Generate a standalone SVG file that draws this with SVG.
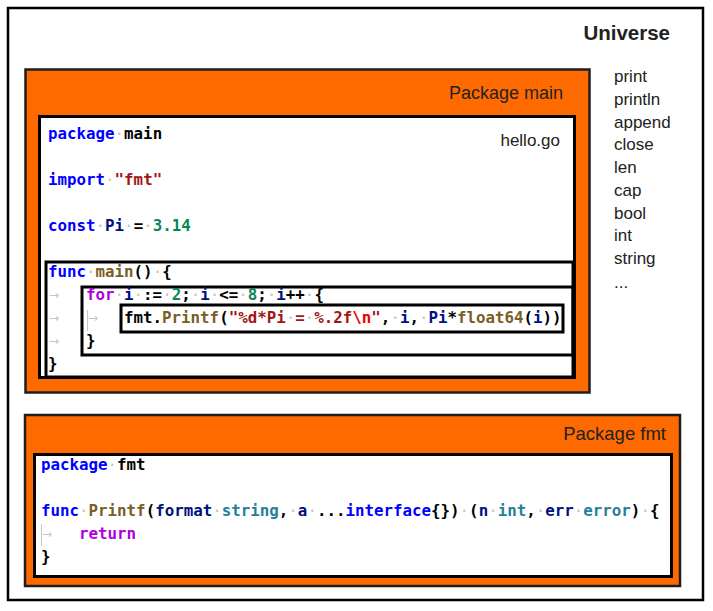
<svg xmlns="http://www.w3.org/2000/svg" width="713" height="611" viewBox="0 0 713 611">
<style>
.frame{fill:#fff;stroke:#000;stroke-width:2.5}
.pkg{fill:#ff6a00;stroke:#1e1e1e;stroke-width:2.5}
.file{fill:#fff;stroke:#000;stroke-width:3}
.scope{fill:none;stroke:#000;stroke-width:3}
.label{font-family:"Liberation Sans",Arial,sans-serif;fill:#222}
.code{font-family:"DejaVu Sans Mono","Liberation Mono",monospace;font-size:15.8px;font-weight:bold;fill:#000}
.kw{fill:#0000ff}
.ctl{fill:#af00db}
.str{fill:#a31515}
.esc{fill:#ee0000}
.num{fill:#098658}
.fn{fill:#795e26}
.ty{fill:#267f99}
.var{fill:#001080}
.ws{fill:#c4c4c4;font-weight:normal}
.tab{font-family:"DejaVu Sans",sans-serif;font-size:12px;fill:#c4c4c4}
.guide{stroke:#c8c8c8;stroke-width:1}
</style>

<g id="universe">
<rect class="frame" x="8" y="8" width="695" height="592"/>
<text class="label" x="670" y="40" text-anchor="end" font-size="20.5" font-weight="bold" fill="#000">Universe</text>
<g class="label" font-size="17" fill="#000">
<text x="614" y="82">print</text>
<text x="614" y="105">println</text>
<text x="614" y="128">append</text>
<text x="614" y="150">close</text>
<text x="614" y="173">len</text>
<text x="614" y="196">cap</text>
<text x="614" y="219">bool</text>
<text x="614" y="241">int</text>
<text x="614" y="264">string</text>
<text x="614" y="288">...</text>
</g>
</g>

<g id="pkg-main">
<rect class="pkg" x="25.5" y="69.5" width="564" height="323"/>
<text class="label" x="563" y="99" text-anchor="end" font-size="18">Package main</text>
</g>

<g id="hello-go">
<rect class="file" x="39.5" y="116.5" width="535" height="261"/>
<text class="label" x="560" y="146" text-anchor="end" font-size="17" fill="#000">hello.go</text>
<text class="code" x="48" y="139"><tspan class="kw">package</tspan><tspan class="ws">·</tspan>main</text>
<text class="code" x="48" y="185"><tspan class="kw">import</tspan><tspan class="ws">·</tspan><tspan class="str">"fmt"</tspan></text>
<text class="code" x="48" y="231"><tspan class="kw">const</tspan><tspan class="ws">·</tspan><tspan class="var">Pi</tspan><tspan class="ws">·</tspan>=<tspan class="ws">·</tspan><tspan class="num">3.14</tspan></text>
<text class="code" x="48" y="369">}</text>
<text class="tab" x="49" y="299">→</text>
<text class="tab" x="49" y="322">→</text>
<text class="tab" x="49" y="345">→</text>
</g>

<g id="func-main">
<rect class="scope" x="46" y="262" width="527" height="115"/>
<text class="code" x="48" y="277"><tspan class="kw">func</tspan><tspan class="ws">·</tspan><tspan class="fn">main</tspan>()<tspan class="ws">·</tspan>{</text>
</g>

<g id="for-loop">
<rect class="scope" x="82" y="287" width="491" height="68"/>
<text class="code" x="86" y="300"><tspan class="ctl">for</tspan><tspan class="ws">·</tspan><tspan class="var">i</tspan><tspan class="ws">·</tspan>:=<tspan class="ws">·</tspan><tspan class="num">2</tspan>;<tspan class="ws">·</tspan><tspan class="var">i</tspan><tspan class="ws">·</tspan>&lt;=<tspan class="ws">·</tspan><tspan class="num">8</tspan>;<tspan class="ws">·</tspan><tspan class="var">i</tspan>++<tspan class="ws">·</tspan>{</text>
<text class="code" x="86" y="346">}</text>
<line class="guide" x1="87.5" y1="310" x2="87.5" y2="331"/>
<text class="tab" x="88" y="322">→</text>
</g>

<g id="printf-call">
<rect class="scope" x="121" y="305" width="442" height="27"/>
<text class="code" x="124" y="323">fmt.<tspan class="fn">Printf</tspan>(<tspan class="str">"%d*Pi</tspan><tspan class="ws">·</tspan><tspan class="str">=</tspan><tspan class="ws">·</tspan><tspan class="str">%.2f</tspan><tspan class="esc">\n</tspan><tspan class="str">"</tspan>,<tspan class="ws">·</tspan><tspan class="var">i</tspan>,<tspan class="ws">·</tspan><tspan class="var">Pi</tspan>*<tspan class="fn">float64</tspan>(<tspan class="var">i</tspan>))</text>
</g>

<g id="pkg-fmt">
<rect class="pkg" x="25" y="415" width="655" height="171"/>
<text class="label" x="666" y="440" text-anchor="end" font-size="18.5">Package fmt</text>
</g>

<g id="fmt-file">
<rect class="file" x="34.5" y="454.5" width="637" height="122"/>
<text class="code" x="41" y="470"><tspan class="kw">package</tspan><tspan class="ws">·</tspan>fmt</text>
<text class="code" x="41" y="516"><tspan class="kw">func</tspan><tspan class="ws">·</tspan><tspan class="fn">Printf</tspan>(<tspan class="var">format</tspan><tspan class="ws">·</tspan><tspan class="ty">string</tspan>,<tspan class="ws">·</tspan><tspan class="var">a</tspan><tspan class="ws">·</tspan>...<tspan class="kw">interface</tspan>{})<tspan class="ws">·</tspan>(<tspan class="var">n</tspan><tspan class="ws">·</tspan><tspan class="ty">int</tspan>,<tspan class="ws">·</tspan><tspan class="var">err</tspan><tspan class="ws">·</tspan><tspan class="ty">error</tspan>)<tspan class="ws">·</tspan>{</text>
<line class="guide" x1="41.5" y1="524" x2="41.5" y2="546"/>
<text class="tab" x="42" y="538">→</text>
<text class="code" x="79" y="539"><tspan class="ctl">return</tspan></text>
<text class="code" x="41" y="562">}</text>
</g>
</svg>
